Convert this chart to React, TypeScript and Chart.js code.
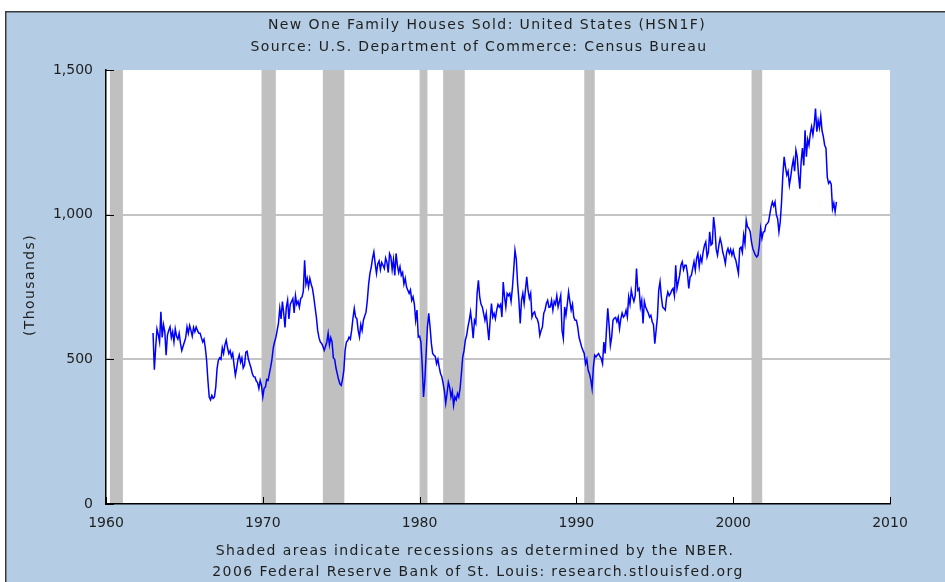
import React, { useEffect, useRef } from "react";
import { Chart, registerables } from "chart.js";

Chart.register(...registerables);

// ---------- text ----------
const TITLE_LINES = [
  "New One Family Houses Sold: United States (HSN1F)",
  "Source: U.S. Department of Commerce: Census Bureau",
];
const FOOTER_LINES = [
  "Shaded areas indicate recessions as determined by the NBER.",
  "2006 Federal Reserve Bank of St. Louis: research.stlouisfed.org",
];
const Y_TITLE = "(Thousands)";

// ---------- axes ----------
const X_MIN = 1960;
const X_MAX = 2010;
const X_STEP = 10;
const Y_MIN = 0;
const Y_MAX = 1500;
const Y_STEP = 500;
const Y_GRID_VALUES = [500, 1000];

// ---------- NBER recessions (decimal years) ----------
const RECESSION_START = [1960.25, 1969.92, 1973.83, 1980.0, 1981.5, 1990.5, 2001.17];
const RECESSION_END = [1961.08, 1970.83, 1975.2, 1980.5, 1982.88, 1991.17, 2001.85];

// ---------- monthly data, thousands (SAAR), starting Jan 1963 ----------
const START_YEAR = 1963;
const sales1963 = [591, 464, 540, 605, 586, 560, 664, 576, 620, 596, 514, 583];
const sales1964 = [600, 612, 575, 595, 560, 605, 580, 570, 590, 555, 530, 545];
const sales1965 = [560, 575, 612, 590, 617, 600, 580, 610, 595, 612, 600, 590];
const sales1966 = [590, 575, 560, 570, 540, 497, 427, 370, 360, 375, 365, 370];
const sales1967 = [404, 468, 497, 505, 500, 540, 520, 550, 566, 540, 520, 530];
const sales1968 = [508, 520, 480, 445, 470, 500, 515, 490, 505, 470, 480, 525];
const sales1969 = [528, 500, 485, 470, 450, 440, 439, 425, 420, 399, 427, 410];
const sales1970 = [370, 400, 404, 430, 427, 450, 473, 500, 540, 560, 576, 600];
const sales1971 = [625, 676, 640, 700, 660, 610, 680, 705, 640, 690, 700, 710];
const sales1972 = [660, 720, 690, 700, 680, 710, 715, 735, 842, 760, 780, 750];
const sales1973 = [780, 760, 745, 716, 680, 646, 600, 575, 560, 555, 545, 531];
const sales1974 = [545, 560, 590, 550, 575, 560, 505, 500, 470, 450, 430, 415];
const sales1975 = [410, 430, 462, 531, 560, 565, 577, 570, 600, 642, 676, 646];
const sales1976 = [640, 600, 577, 620, 600, 635, 650, 663, 704, 760, 797, 819];
const sales1977 = [850, 871, 831, 797, 830, 840, 810, 835, 825, 814, 850, 835];
const sales1978 = [800, 866, 855, 810, 845, 790, 866, 825, 800, 820, 790, 800];
const sales1979 = [760, 780, 750, 739, 728, 740, 704, 716, 690, 635, 670, 577];
const sales1980 = [580, 560, 480, 370, 427, 520, 612, 659, 612, 555, 520, 514];
const sales1981 = [510, 485, 500, 473, 451, 440, 417, 390, 348, 382, 421, 404];
const sales1982 = [370, 390, 341, 370, 360, 382, 370, 400, 451, 508, 530, 566];
const sales1983 = [583, 612, 635, 664, 624, 573, 635, 624, 727, 773, 716, 690];
const sales1984 = [681, 659, 635, 659, 612, 566, 635, 693, 646, 659, 640, 670];
const sales1985 = [690, 681, 690, 646, 767, 716, 681, 728, 720, 728, 700, 745];
const sales1986 = [808, 877, 846, 763, 704, 624, 704, 728, 693, 740, 785, 738];
const sales1987 = [711, 728, 646, 659, 664, 646, 640, 624, 583, 600, 612, 659];
const sales1988 = [670, 693, 704, 680, 681, 704, 670, 700, 690, 720, 681, 700];
const sales1989 = [721, 600, 572, 681, 652, 690, 733, 700, 670, 690, 646, 635];
const sales1990 = [635, 612, 577, 560, 543, 531, 520, 485, 500, 462, 450, 430];
const sales1991 = [399, 473, 514, 508, 515, 520, 510, 503, 485, 560, 520, 600];
const sales1992 = [676, 620, 548, 577, 635, 642, 645, 630, 646, 606, 640, 660];
const sales1993 = [646, 652, 670, 646, 716, 690, 739, 716, 700, 720, 814, 739];
const sales1994 = [745, 681, 704, 624, 700, 681, 670, 660, 646, 652, 630, 620];
const sales1995 = [554, 600, 646, 739, 768, 716, 681, 676, 670, 712, 733, 720];
const sales1996 = [727, 739, 745, 720, 825, 745, 768, 790, 825, 837, 810, 825];
const sales1997 = [825, 797, 745, 785, 790, 814, 837, 808, 850, 866, 820, 854];
const sales1998 = [837, 871, 894, 906, 854, 870, 941, 895, 900, 992, 952, 880];
const sales1999 = [860, 894, 918, 900, 871, 854, 831, 870, 883, 866, 880, 860];
const sales2000 = [877, 854, 843, 820, 797, 883, 888, 870, 929, 900, 981, 958];
const sales2001 = [952, 941, 906, 883, 871, 860, 854, 860, 894, 952, 918, 940];
const sales2002 = [941, 964, 969, 975, 1000, 1027, 1044, 1030, 1044, 1000, 986, 941];
const sales2003 = [975, 1044, 1137, 1200, 1165, 1137, 1150, 1102, 1130, 1165, 1190, 1150];
const sales2004 = [1223, 1200, 1137, 1090, 1183, 1230, 1170, 1292, 1200, 1260, 1240, 1280];
const sales2005 = [1304, 1276, 1310, 1367, 1287, 1325, 1300, 1340, 1290, 1270, 1240, 1230];
const sales2006 = [1130, 1108, 1115, 1105, 1020, 1040, 1010, 1044];

const SALES_BY_YEAR = [
  sales1963, sales1964, sales1965, sales1966, sales1967, sales1968, sales1969,
  sales1970, sales1971, sales1972, sales1973, sales1974, sales1975, sales1976,
  sales1977, sales1978, sales1979, sales1980, sales1981, sales1982, sales1983,
  sales1984, sales1985, sales1986, sales1987, sales1988, sales1989, sales1990,
  sales1991, sales1992, sales1993, sales1994, sales1995, sales1996, sales1997,
  sales1998, sales1999, sales2000, sales2001, sales2002, sales2003, sales2004,
  sales2005, sales2006,
];

// ---------- styles ----------
const PANEL_BLUE = "rgb(180,205,228)";
const LINE_BLUE = "#0000ff";
const BAND_GRAY = "#c0c0c0";
const GRID_GRAY = "#c4c4c4";
const TEXT_COLOR = "#1e1e1e";
const FONT_FAMILY = "'DejaVu Sans', Verdana, sans-serif";

const W = 945;
const H = 582;

function buildPoints() {
  const pts: { x: number; y: number }[] = [];
  SALES_BY_YEAR.forEach((arr, yi) => {
    arr.forEach((v, m) => {
      pts.push({ x: START_YEAR + yi + m / 12, y: v });
    });
  });
  return pts;
}

const backgroundPlugin = {
  id: "fredBackground",
  beforeDraw(chart: any) {
    const { ctx, chartArea: a, width, height } = chart;
    ctx.save();
    ctx.fillStyle = "#ffffff";
    ctx.fillRect(0, 0, width, height);
    ctx.fillStyle = PANEL_BLUE;
    ctx.fillRect(5, 11, width - 5, height - 11);
    ctx.strokeStyle = "#3a3a3a";
    ctx.lineWidth = 1.5;
    ctx.beginPath();
    ctx.moveTo(5.75, height);
    ctx.lineTo(5.75, 11.75);
    ctx.lineTo(width, 11.75);
    ctx.stroke();
    ctx.fillStyle = "#ffffff";
    ctx.fillRect(a.left, a.top, a.right - a.left, a.bottom - a.top);
    ctx.restore();
  },
};

const recessionPlugin = {
  id: "recessions",
  beforeDatasetsDraw(chart: any) {
    const { ctx, chartArea: a } = chart;
    const xs = chart.scales.x;
    ctx.save();
    ctx.fillStyle = BAND_GRAY;
    RECESSION_START.forEach((s, i) => {
      const x1 = xs.getPixelForValue(s);
      const x2 = xs.getPixelForValue(RECESSION_END[i]);
      ctx.fillRect(x1, a.top, x2 - x1, a.bottom - a.top - 1);
    });
    ctx.restore();
  },
};

const ticksAndTextPlugin = {
  id: "ticksAndText",
  afterDraw(chart: any) {
    const { ctx, chartArea: a } = chart;
    const xs = chart.scales.x;
    const ys = chart.scales.y;
    ctx.save();
    // inward tick marks
    ctx.strokeStyle = "#000";
    ctx.lineWidth = 1;
    ctx.beginPath();
    for (let v = Y_MIN; v <= Y_MAX; v += Y_STEP) {
      const y = Math.round(ys.getPixelForValue(v)) + 0.5;
      ctx.moveTo(a.left, y);
      ctx.lineTo(a.left + 8, y);
    }
    for (let v = X_MIN; v <= X_MAX; v += X_STEP) {
      const x = Math.round(xs.getPixelForValue(v)) + 0.5;
      ctx.moveTo(x, a.bottom);
      ctx.lineTo(x, a.bottom - 7);
    }
    ctx.stroke();

    // texts
    ctx.fillStyle = TEXT_COLOR;
    ctx.font = `14px ${FONT_FAMILY}`;
    (ctx as any).letterSpacing = "1.4px";
    ctx.textAlign = "center";
    ctx.textBaseline = "middle";
    ctx.fillText(TITLE_LINES[0], 487, 25);
    ctx.fillText(TITLE_LINES[1], 479, 47);
    ctx.fillText(FOOTER_LINES[0], 475, 551);
    ctx.fillText(FOOTER_LINES[1], 478, 572);

    ctx.translate(30, 285);
    ctx.rotate(-Math.PI / 2);
    ctx.fillText(Y_TITLE, 0, 0);
    ctx.restore();
  },
};

export default function App() {
  const ref = useRef<HTMLCanvasElement | null>(null);

  useEffect(() => {
    document.body.style.margin = "0";
    const canvas = ref.current;
    if (!canvas) return;
    const chart = new Chart(canvas, {
      type: "line",
      data: {
        datasets: [
          {
            data: buildPoints(),
            borderColor: LINE_BLUE,
            borderWidth: 1.5,
            pointRadius: 0,
            tension: 0,
            fill: false,
          },
        ],
      },
      options: {
        animation: false,
        responsive: false,
        maintainAspectRatio: false,
        layout: { padding: { left: 20, right: 55, top: 70, bottom: 48 } },
        plugins: {
          legend: { display: false },
          tooltip: { enabled: false },
          title: { display: false },
        },
        scales: {
          x: {
            type: "linear",
            min: X_MIN,
            max: X_MAX,
            afterFit: (s: any) => {
              s.height = 30;
            },
            ticks: {
              stepSize: X_STEP,
              maxRotation: 0,
              padding: 11,
              color: TEXT_COLOR,
              font: { family: FONT_FAMILY, size: 14 },
              callback: (v: any) => String(v),
            },
            grid: { display: false, drawTicks: false },
            border: { display: true, color: "#000", width: 1.5 },
          },
          y: {
            min: Y_MIN,
            max: Y_MAX,
            afterFit: (s: any) => {
              s.width = 86;
            },
            ticks: {
              stepSize: Y_STEP,
              padding: 13,
              color: TEXT_COLOR,
              font: { family: FONT_FAMILY, size: 14 },
              callback: (v: any) => Number(v).toLocaleString("en-US"),
            },
            grid: {
              drawTicks: false,
              lineWidth: 2,
              color: (c: any) =>
                c.tick && Y_GRID_VALUES.includes(c.tick.value) ? GRID_GRAY : "rgba(0,0,0,0)",
            },
            border: { display: true, color: "#000", width: 1.5 },
          },
        },
      },
      plugins: [backgroundPlugin, recessionPlugin, ticksAndTextPlugin],
    });
    return () => chart.destroy();
  }, []);

  return <canvas ref={ref} width={W} height={H} style={{ display: "block", width: W, height: H }} />;
}
